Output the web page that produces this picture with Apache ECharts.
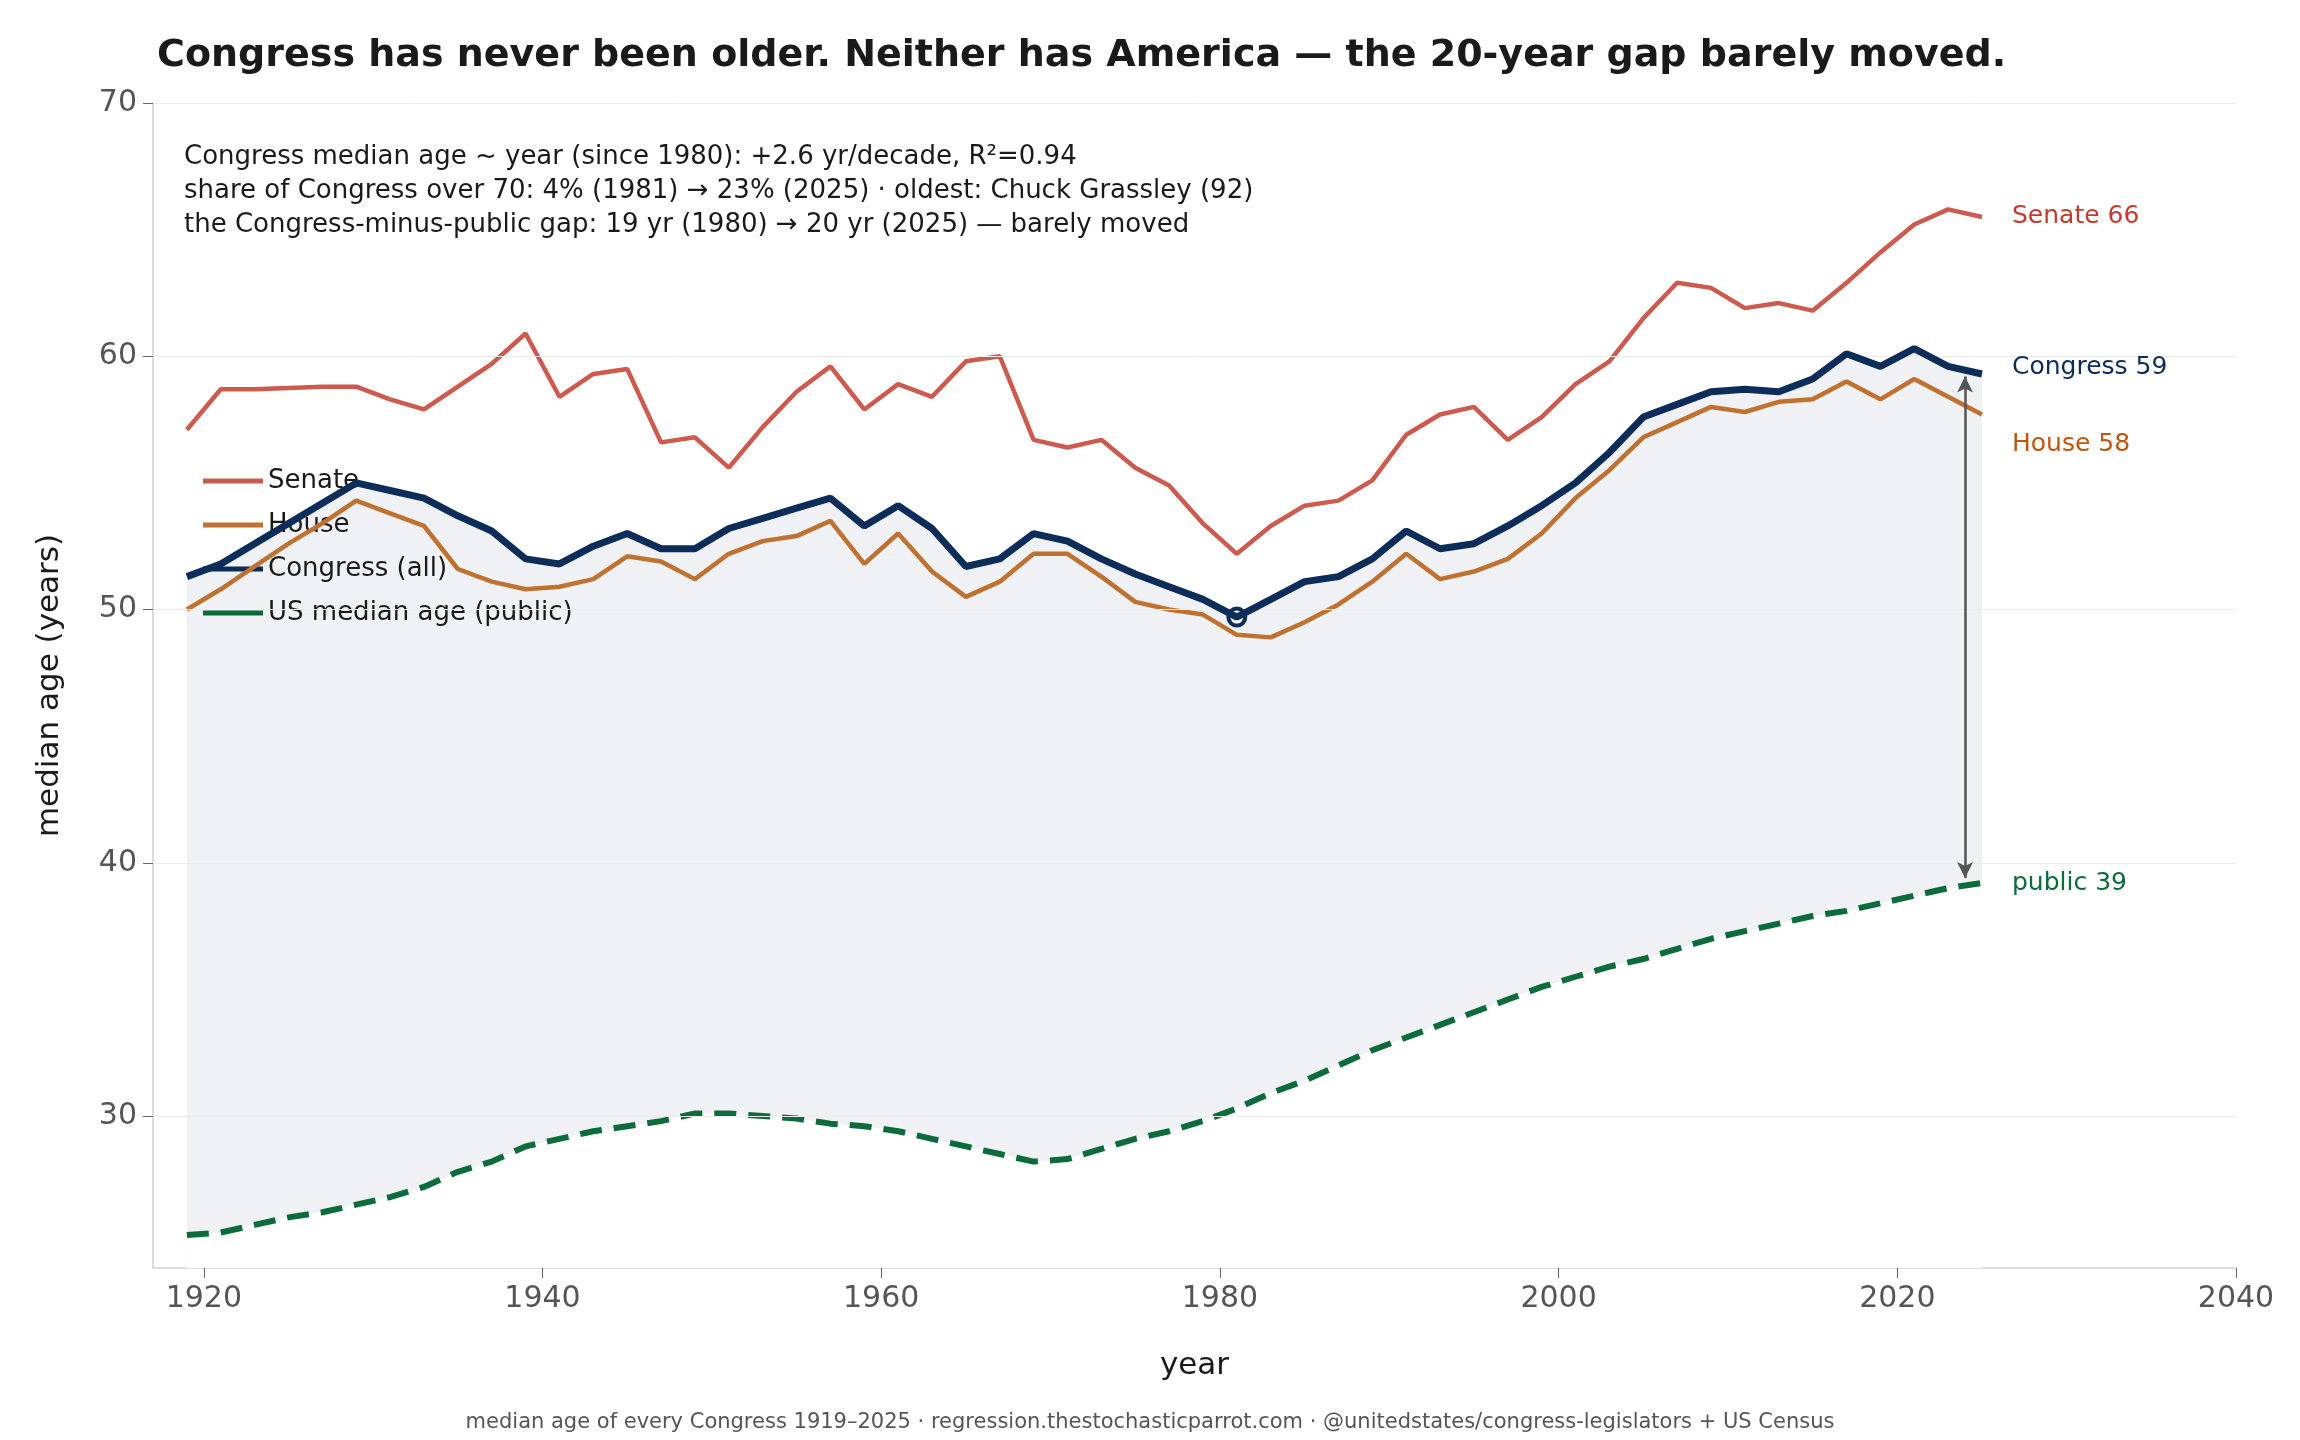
<!DOCTYPE html>
<html>
<head>
<meta charset="utf-8">
<script src="https://cdn.jsdelivr.net/npm/echarts@6/dist/echarts.min.js"></script>
<style>html,body{margin:0;padding:0;background:#fff}#chart{width:2300px;height:1440px}</style>
</head>
<body>
<div id="chart"></div>
<script>
// biennial congress start years
const years = [];
for (let y = 1919; y <= 2025; y += 2) years.push(y);

const senate = [57.1,58.7,58.7,58.75,58.8,58.8,58.3,57.9,58.8,59.7,60.9,58.4,59.3,59.5,56.6,56.8,55.6,57.2,58.6,59.6,57.9,58.9,58.4,59.8,60.0,56.7,56.4,56.7,55.6,54.9,53.4,52.2,53.3,54.1,54.3,55.1,56.9,57.7,58.0,56.7,57.6,58.9,59.8,61.5,62.9,62.7,61.9,62.1,61.8,62.9,64.1,65.2,65.8,65.5];
const house = [50.0,50.8,51.7,52.6,53.4,54.3,53.8,53.3,51.6,51.1,50.8,50.9,51.2,52.1,51.9,51.2,52.2,52.7,52.9,53.5,51.8,53.0,51.5,50.5,51.1,52.2,52.2,51.3,50.3,50.0,49.8,49.0,48.9,49.5,50.2,51.1,52.2,51.2,51.5,52.0,53.0,54.4,55.5,56.8,57.4,58.0,57.8,58.2,58.3,59.0,58.3,59.1,58.4,57.7];
const congress = [51.3,51.8,52.6,53.4,54.2,55.0,54.7,54.4,53.7,53.1,52.0,51.8,52.5,53.0,52.4,52.4,53.2,53.6,54.0,54.4,53.3,54.1,53.2,51.7,52.0,53.0,52.7,52.0,51.4,50.9,50.4,49.7,50.4,51.1,51.3,52.0,53.1,52.4,52.6,53.3,54.1,55.0,56.2,57.6,58.1,58.6,58.7,58.6,59.1,60.1,59.6,60.3,59.6,59.3];
const publicAge = [25.3,25.4,25.7,26.0,26.2,26.5,26.8,27.2,27.8,28.2,28.8,29.1,29.4,29.6,29.8,30.1,30.1,30.0,29.9,29.7,29.6,29.4,29.1,28.8,28.5,28.2,28.3,28.7,29.1,29.4,29.8,30.3,30.9,31.4,32.0,32.6,33.1,33.6,34.1,34.6,35.1,35.5,35.9,36.2,36.6,37.0,37.3,37.6,37.9,38.1,38.4,38.7,39.0,39.2];
const xTicks = [1920,1940,1960,1980,2000,2020,2040];
const yTicks = [30,40,50,60,70];

const C_SEN = '#cd5a4e', C_HOU = '#c0702f', C_CON = '#0c2d5a', C_PUB = '#0b6b3a';
const pair = arr => years.map((y, i) => [y, arr[i]]);
const font = 'DejaVu Sans';

const chart = echarts.init(document.getElementById('chart'));
chart.setOption({
  animation: false,
  textStyle: { fontFamily: font },
  title: {
    text: 'Congress has never been older. Neither has America — the 20-year gap barely moved.',
    left: 152, top: 32,
    textStyle: { fontSize: 38, fontWeight: 'bold', color: '#1a1a1a', fontFamily: font }
  },
  grid: { left: 153, right: 64, top: 103, bottom: 172 },
  legend: {
    left: 198, top: 463, orient: 'vertical', itemGap: 18, itemWidth: 60, itemHeight: 5,
    icon: 'rect',
    textStyle: { fontSize: 26, color: '#1a1a1a' },
    data: ['Senate', 'House', 'Congress (all)', 'US median age (public)']
  },
  xAxis: {
    type: 'value', min: 1917, max: 2040,
    name: 'year', nameLocation: 'middle', nameGap: 82,
    nameTextStyle: { fontSize: 31, color: '#1a1a1a' },
    axisLine: { show: true, lineStyle: { color: '#dcdcdc', width: 2 } },
    axisTick: { show: true, customValues: xTicks, length: 10, lineStyle: { color: '#666' } },
    axisLabel: { customValues: xTicks, fontSize: 30, color: '#555', margin: 16, formatter: v => String(v) },
    splitLine: { show: false }
  },
  yAxis: {
    type: 'value', min: 24, max: 70,
    name: 'median age (years)', nameLocation: 'middle', nameGap: 88,
    nameTextStyle: { fontSize: 31, color: '#1a1a1a' },
    axisLine: { show: true, lineStyle: { color: '#dcdcdc', width: 2 } },
    axisTick: { show: true, customValues: yTicks, length: 10, lineStyle: { color: '#666' } },
    axisLabel: { customValues: yTicks, fontSize: 30, color: '#555', margin: 16 },
    splitLine: { show: false }
  },
  graphic: [
    { type: 'text', x: 184, y: 140, style: {
      text: 'Congress median age ~ year (since 1980): +2.6 yr/decade, R²=0.94\nshare of Congress over 70: 4% (1981) → 23% (2025) · oldest: Chuck Grassley (92)\nthe Congress-minus-public gap: 19 yr (1980) → 20 yr (2025) — barely moved',
      fontSize: 26, lineHeight: 34, fill: '#1a1a1a', fontFamily: font } },
    { type: 'text', x: 1272, y: 713, style: {
      text: 'Congress low: 50 (1981)', fontSize: 22, fill: C_CON, fontFamily: font } },
    { type: 'text', x: 1924, y: 598, style: {
      text: '20-year\ngap', fontSize: 23, lineHeight: 30, fill: '#666', align: 'right', fontFamily: font } },
    { type: 'text', x: 1150, y: 1412, style: {
      text: 'median age of every Congress 1919–2025 · regression.thestochasticparrot.com · @unitedstates/congress-legislators + US Census',
      fontSize: 21, fill: '#555', fontFamily: font, align: 'center' } }
  ],
  series: [
    { name: 'bandTop', type: 'line', data: pair(congress), symbol: 'none', z: 1,
      lineStyle: { opacity: 0 }, areaStyle: { color: '#eff1f5', opacity: 1 }, silent: true },
    { name: 'bandCut', type: 'line', data: pair(publicAge), symbol: 'none', z: 2,
      lineStyle: { opacity: 0 }, areaStyle: { color: '#ffffff', opacity: 1 }, silent: true },
    { name: 'grid', type: 'line', data: [], z: 3, silent: true,
      markLine: { silent: true, symbol: 'none', label: { show: false },
        lineStyle: { color: '#ececec', width: 1, type: 'solid' },
        data: yTicks.map(v => ({ yAxis: v })) } },
    { name: 'Senate', type: 'line', data: pair(senate), symbol: 'none', color: C_SEN, z: 4,
      lineStyle: { width: 4.5, color: C_SEN },
      endLabel: { show: true, formatter: 'Senate 66', color: '#c23b2e', fontSize: 25, distance: 30 } },
    { name: 'House', type: 'line', data: pair(house), symbol: 'none', color: C_HOU, z: 4,
      lineStyle: { width: 4.5, color: C_HOU },
      endLabel: { show: true, formatter: 'House 58', color: '#c0560f', fontSize: 25, distance: 30, offset: [0, 30] } },
    { name: 'Congress (all)', type: 'line', data: pair(congress), symbol: 'none', color: C_CON,
      lineStyle: { width: 7, color: C_CON }, z: 5,
      endLabel: { show: true, formatter: 'Congress 59', color: C_CON, fontSize: 25, distance: 30, offset: [0, -6] },
      markPoint: { symbol: 'circle', symbolSize: 17,
        itemStyle: { color: '#fff', borderColor: C_CON, borderWidth: 4 }, label: { show: false },
        data: [{ coord: [1981, 49.7] }] },
      markLine: { silent: true, symbol: ['arrow', 'arrow'], symbolSize: [12, 16], label: { show: false },
        lineStyle: { color: '#555', width: 2.5, type: 'solid' },
        data: [[{ coord: [2024, 59.2] }, { coord: [2024, 39.4] }]] } },
    { name: 'US median age (public)', type: 'line', data: pair(publicAge), symbol: 'none', color: C_PUB, z: 4,
      lineStyle: { width: 6, color: C_PUB, type: [22, 12] },
      endLabel: { show: true, formatter: 'public 39', color: C_PUB, fontSize: 25, distance: 30 } }
  ]
});
</script>
</body>
</html>
